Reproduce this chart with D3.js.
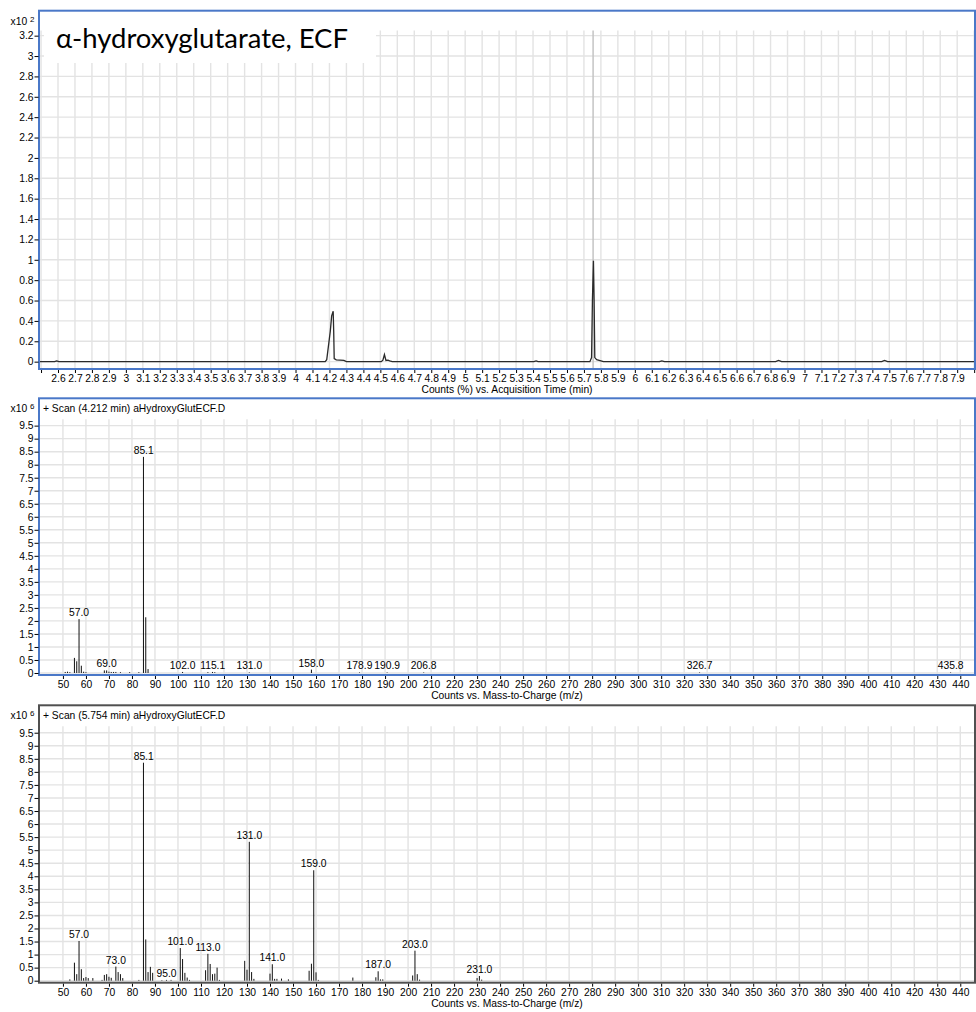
<!DOCTYPE html>
<html>
<head>
<meta charset="utf-8">
<script src="https://cdn.jsdelivr.net/npm/d3@7"></script>
<style>
  body { margin: 0; background: #fff; }
  svg text { font-family: "Liberation Sans Narrow", "Liberation Sans", Arial, sans-serif; fill: #000; }
</style>
</head>
<body>
<svg id="chart" width="976" height="1012"></svg>
<script>
"use strict";

///////////////////////////////////
// data: TIC chromatogram (counts x10^2)
///////////////////////////////////
const ticTime = [2.488, 2.58, 2.592, 2.605, 4.175, 4.184, 4.205, 4.213, 4.222, 4.225, 4.228, 4.24, 4.285, 4.3,
  4.505, 4.515, 4.524, 4.533, 4.545, 4.555, 4.57, 5.405, 5.418, 5.43, 5.735, 5.745, 5.75, 5.756, 5.76, 5.764,
  5.775, 5.8, 5.815, 6.145, 6.159, 6.175, 6.83, 6.847, 6.865, 7.455, 7.472, 7.49, 8.005];
const ticCounts = [0, 0, 0.008, 0, 0, 0.02, 0.3, 0.45, 0.495, 0.3, 0.03, 0.018, 0.012, 0,
  0, 0.015, 0.07, 0.012, 0.015, 0.008, 0, 0, 0.008, 0, 0, 0.04, 0.6, 0.99, 0.6, 0.04,
  0.02, 0.008, 0, 0, 0.008, 0, 0, 0.013, 0, 0, 0.013, 0, 0];
const markerTime = 5.754;
const timeTicks = [2.5, 2.6, 2.7, 2.8, 2.9, 3, 3.1, 3.2, 3.3, 3.4, 3.5, 3.6, 3.7, 3.8, 3.9, 4, 4.1, 4.2, 4.3, 4.4,
  4.5, 4.6, 4.7, 4.8, 4.9, 5, 5.1, 5.2, 5.3, 5.4, 5.5, 5.6, 5.7, 5.8, 5.9, 6, 6.1, 6.2, 6.3, 6.4, 6.5, 6.6, 6.7,
  6.8, 6.9, 7, 7.1, 7.2, 7.3, 7.4, 7.5, 7.6, 7.7, 7.8, 7.9, 8];
const timeLabels = timeTicks.slice(1, -1);
const ticCountTicks = [0, 0.2, 0.4, 0.6, 0.8, 1, 1.2, 1.4, 1.6, 1.8, 2, 2.2, 2.4, 2.6, 2.8, 3, 3.2];

///////////////////////////////////
// data: scan at 4.212 min (counts x10^6)
///////////////////////////////////
const scanAMz = [51, 52, 53, 55, 56, 57, 58, 59, 60, 68, 69, 70, 71, 72, 73, 75, 79, 83, 85, 86, 87,
  102, 113, 115, 116, 131, 158, 178.9, 190.9, 206.8, 326.7, 435.8];
const scanACounts = [0.04, 0.05, 0.03, 0.58, 0.45, 2.07, 0.28, 0.05, 0.03, 0.1, 0.1, 0.05, 0.04, 0.04, 0.04, 0.03,
  0.03, 0.03, 8.3, 2.14, 0.15, 0.04, 0.03, 0.04, 0.03, 0.02, 0.13, 0.02, 0.02, 0.02, 0.02, 0.02];
const scanALabelMz = [57.0, 69.0, 85.1, 102.0, 115.1, 131.0, 158.0, 178.9, 190.9, 206.8, 326.7, 435.8];
const scanALabelCounts = [2.07, 0.1, 8.3, 0.04, 0.04, 0.02, 0.13, 0.02, 0.02, 0.02, 0.02, 0.02];

///////////////////////////////////
// data: scan at 5.754 min (counts x10^6)
///////////////////////////////////
const scanBMz = [53, 55, 56, 57, 58, 59, 60, 61, 63, 67, 68, 69, 70, 71, 73, 74, 75, 76, 83, 85, 86, 87, 88, 89,
  93, 95, 97, 101, 102, 103, 104, 105, 112, 113, 114, 115, 116, 117, 118, 129, 130, 131, 132, 133,
  140, 141, 142, 143, 145, 148, 157, 158, 159, 160, 161, 176, 186, 187, 188, 189, 202, 203, 204, 205,
  230, 231, 232];
const scanBCounts = [0.05, 0.69, 0.25, 1.52, 0.44, 0.1, 0.14, 0.1, 0.1, 0.03, 0.22, 0.25, 0.15, 0.11, 0.54, 0.33,
  0.25, 0.1, 0.03, 8.35, 1.58, 0.33, 0.53, 0.3, 0.02, 0.03, 0.03, 1.25, 0.83, 0.3, 0.12, 0.03, 0.4, 1.03,
  0.64, 0.25, 0.27, 0.5, 0.03, 0.76, 0.42, 5.32, 0.33, 0.07, 0.27, 0.63, 0.07, 0.07, 0.08, 0.05, 0.38,
  0.65, 4.23, 0.32, 0.03, 0.12, 0.13, 0.36, 0.05, 0.05, 0.2, 1.15, 0.25, 0.04, 0.1, 0.18, 0.04];
const scanBLabelMz = [57.0, 73.0, 85.1, 95.0, 101.0, 113.0, 131.0, 141.0, 159.0, 187.0, 203.0, 231.0];
const scanBLabelCounts = [1.52, 0.54, 8.35, 0.03, 1.25, 1.03, 5.32, 0.63, 4.23, 0.36, 1.15, 0.18];

const mzTicks = [50, 60, 70, 80, 90, 100, 110, 120, 130, 140, 150, 160, 170, 180, 190, 200, 210, 220, 230, 240,
  250, 260, 270, 280, 290, 300, 310, 320, 330, 340, 350, 360, 370, 380, 390, 400, 410, 420, 430, 440];
const scanCountTicks = [0, 0.5, 1, 1.5, 2, 2.5, 3, 3.5, 4, 4.5, 5, 5.5, 6, 6.5, 7, 7.5, 8, 8.5, 9, 9.5];

///////////////////////////////////
// layout
///////////////////////////////////
const svg = d3.select("#chart");
const frameL = 39;
const frameR = 975;
const fontSize = 10.3;
const gridColor = "#e3e3e3";

const styleAxis = (g) => {
  g.select(".domain").remove();
  g.selectAll(".tick line").attr("stroke", "#000");
  g.selectAll("text").attr("font-size", fontSize).attr("fill", "#000")
    .style("font-family", '"Liberation Sans Narrow", "Liberation Sans", Arial, sans-serif');
};

const exponentLabel = (y, exp) => {
  const t = svg.append("text").attr("x", 10.5).attr("y", y).attr("font-size", fontSize);
  t.append("tspan").text("x10 ");
  t.append("tspan").attr("dy", -3).attr("font-size", 8).text(exp);
};

///////////////////////////////////
// panel 1: chromatogram
///////////////////////////////////
const p1Top = 10.7;
const p1Bottom = 369;
const x1 = d3.scaleLinear().domain([2.488, 8.005]).range([frameL, frameR]);
const y1 = d3.scaleLinear().domain([-0.072, 3.445]).range([p1Bottom, p1Top]);

const p1 = svg.append("g");
p1.append("rect").attr("x", frameL).attr("y", p1Top).attr("width", frameR - frameL)
  .attr("height", p1Bottom - p1Top).attr("fill", "#fff");

p1.append("g").selectAll("line").data(timeTicks).join("line")
  .attr("x1", (d) => x1(d)).attr("x2", (d) => x1(d))
  .attr("y1", y1(3.25)).attr("y2", p1Bottom)
  .attr("stroke", gridColor).attr("stroke-width", 1.4);
p1.append("g").selectAll("line").data(ticCountTicks).join("line")
  .attr("x1", frameL).attr("x2", frameR)
  .attr("y1", (d) => y1(d)).attr("y2", (d) => y1(d))
  .attr("stroke", gridColor).attr("stroke-width", 1.4);

// title box covers the grid
p1.append("rect").attr("x", 44).attr("y", 13).attr("width", 332).attr("height", 50).attr("fill", "#fff");
p1.append("text").attr("x", 56).attr("y", 47.5)
  .style("font-family", "Lato, 'Open Sans', sans-serif").attr("font-size", 26.5)
  .attr("textLength", 292).attr("lengthAdjust", "spacingAndGlyphs")
  .text("α-hydroxyglutarate, ECF");

// scan marker
p1.append("line")
  .attr("x1", x1(markerTime)).attr("x2", x1(markerTime))
  .attr("y1", y1(3.25)).attr("y2", p1Bottom)
  .attr("stroke", "#c4c4c4").attr("stroke-width", 1.5);

const ticLine = d3.line().x((d, i) => x1(ticTime[i])).y((d) => y1(d));
p1.append("path").datum(ticCounts).attr("d", ticLine)
  .attr("fill", "none").attr("stroke", "#2a2a2a").attr("stroke-width", 1.3);

p1.append("rect").attr("x", frameL).attr("y", p1Top).attr("width", frameR - frameL)
  .attr("height", p1Bottom - p1Top).attr("fill", "none").attr("stroke", "#4a78c8").attr("stroke-width", 2);

svg.append("g").attr("transform", `translate(${frameL - 0.5},0)`)
  .call(d3.axisLeft(y1).tickValues(ticCountTicks).tickSize(4).tickPadding(1).tickFormat(d3.format("~g")))
  .call(styleAxis);
svg.append("g").attr("transform", `translate(0,${p1Bottom + 1})`)
  .call(d3.axisBottom(x1).tickValues(timeTicks).tickSize(3).tickPadding(2)
    .tickFormat((d) => (timeLabels.includes(d) ? String(d) : "")))
  .call(styleAxis);
exponentLabel(25, "2");
svg.append("text").attr("x", (frameL + frameR) / 2).attr("y", 393).attr("text-anchor", "middle")
  .attr("font-size", fontSize).text("Counts (%) vs. Acquisition Time (min)");

///////////////////////////////////
// panels 2 and 3: mass spectra
///////////////////////////////////
const drawScan = (top, bottom, frameColor, header, mz, counts, labelMz, labelCounts) => {
  const x = d3.scaleLinear().domain([39.6, 446.4]).range([frameL, frameR]);
  const y = d3.scaleLinear().domain([-0.077, 10.55]).range([bottom, top]);
  const g = svg.append("g");

  g.append("g").selectAll("line").data(mzTicks).join("line")
    .attr("x1", (d) => x(d)).attr("x2", (d) => x(d))
    .attr("y1", y(9.75)).attr("y2", bottom)
    .attr("stroke", gridColor).attr("stroke-width", 1.4);
  g.append("g").selectAll("line").data(scanCountTicks).join("line")
    .attr("x1", frameL).attr("x2", frameR)
    .attr("y1", (d) => y(d)).attr("y2", (d) => y(d))
    .attr("stroke", gridColor).attr("stroke-width", 1.4);

  g.append("g").selectAll("line").data(mz).join("line")
    .attr("x1", (d) => x(d)).attr("x2", (d) => x(d))
    .attr("y1", y(0)).attr("y2", (d, i) => y(counts[i]))
    .attr("stroke", "#111").attr("stroke-width", 1);

  g.append("g").selectAll("text").data(labelMz).join("text")
    .attr("x", (d) => x(d)).attr("y", (d, i) => y(labelCounts[i]) - 3)
    .attr("text-anchor", "middle").attr("font-size", fontSize)
    .text((d) => d3.format(".1f")(d));

  g.append("text").attr("x", 43).attr("y", top + 13.7).attr("font-size", fontSize).text(header);

  g.append("rect").attr("x", frameL).attr("y", top).attr("width", frameR - frameL)
    .attr("height", bottom - top).attr("fill", "none").attr("stroke", frameColor).attr("stroke-width", 2);

  svg.append("g").attr("transform", `translate(${frameL - 0.5},0)`)
    .call(d3.axisLeft(y).tickValues(scanCountTicks).tickSize(4).tickPadding(1).tickFormat(d3.format("~g")))
    .call(styleAxis);
  svg.append("g").attr("transform", `translate(0,${bottom + 1})`)
    .call(d3.axisBottom(x).tickValues(mzTicks).tickSize(3).tickPadding(2))
    .call(styleAxis);
  exponentLabel(top + 14, "6");
  svg.append("text").attr("x", (frameL + frameR) / 2).attr("y", bottom + 24).attr("text-anchor", "middle")
    .attr("font-size", fontSize).text("Counts vs. Mass-to-Charge (m/z)");
};

drawScan(398.3, 675, "#4a78c8", "+ Scan (4.212 min) aHydroxyGlutECF.D",
  scanAMz, scanACounts, scanALabelMz, scanALabelCounts);
drawScan(705.3, 982.7, "#505050", "+ Scan (5.754 min) aHydroxyGlutECF.D",
  scanBMz, scanBCounts, scanBLabelMz, scanBLabelCounts);
</script>
</body>
</html>
